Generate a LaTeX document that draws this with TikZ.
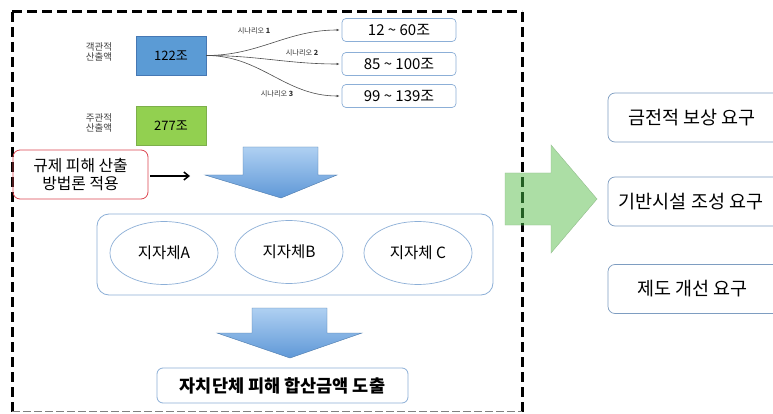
\documentclass[tikz,border=0pt]{standalone}
\usepackage{fontspec}
\setmainfont{Noto Sans CJK KR}
\usetikzlibrary{shapes.geometric,arrows.meta}
\definecolor{boxblue}{RGB}{91,155,213}
\definecolor{boxblueborder}{RGB}{70,120,180}
\definecolor{boxgreen}{RGB}{146,208,80}
\definecolor{boxgreenborder}{RGB}{125,175,75}
\definecolor{lineblue}{RGB}{140,175,215}
\definecolor{redline}{RGB}{220,70,80}
\definecolor{arrowtop}{RGB}{175,208,242}
\definecolor{arrowbot}{RGB}{95,152,215}
\definecolor{arrowgreen}{RGB}{172,222,165}
\definecolor{darkgreenline}{RGB}{35,95,35}
\tikzset{
  valbox/.style={draw=#1, line width=0.6pt, minimum width=70pt, minimum height=39pt, inner sep=0pt, font=\fontsize{13}{13}\selectfont},
  smalllab/.style={align=center, font=\fontsize{9.5}{10}\selectfont, text=black!75, inner sep=0pt},
  scenbox/.style={draw=lineblue, rounded corners=4pt, line width=0.7pt, minimum width=114pt, minimum height=23pt, inner sep=0pt, font=\fontsize{15}{15}\selectfont},
  scenlab/.style={font=\fontsize{7.2}{8}\selectfont, text=black!80, inner sep=0pt},
  curvearrow/.style={draw=black!70, line width=0.6pt, -{Latex[length=3pt,width=2.5pt]}},
  ellnode/.style={ellipse, draw=lineblue, line width=0.7pt, minimum width=108pt, minimum height=63pt, inner sep=0pt, font=\fontsize{15.5}{15.5}\selectfont},
  sidebox/.style={draw=lineblue!90!black, rounded corners=7pt, line width=0.7pt, minimum width=172pt, minimum height=49pt, inner sep=0pt},
  sidetext/.style={font=\fontsize{18.5}{18.5}\selectfont, inner sep=0pt},
  bigdash/.style={line width=3pt, dash pattern=on 10pt off 5pt},
}
\begin{document}
\begin{tikzpicture}[x=1pt,y=-1pt]
\useasboundingbox (0,0) rectangle (773,414);
\clip (0,0) rectangle (773,414);
\fill[white] (0,0) rectangle (773,414);

% dashed frame
\draw[bigdash] (12,12) -- (522,12);
\draw[bigdash] (12,12) -- (12,412);
\draw[bigdash] (522,12) -- (522,412);
\draw[black!50, line width=1.4pt, dash pattern=on 8pt off 3pt] (12,411.5) -- (522,411.5);

% value boxes
\node[valbox=boxblueborder, fill=boxblue] (b122) at (171,55.5) {122조};
\node[valbox=boxgreenborder, fill=boxgreen] (b277) at (171,125.5) {277조};
\node[smalllab] (l1) at (99,51.5) {객관적\\산출액};
\node[smalllab] (l2) at (99,122.5) {주관적\\산출액};

% scenario boxes
\node[scenbox] (s1) at (399,30) {12 \textasciitilde{} 60조};
\node[scenbox] (s2) at (399,64) {85 \textasciitilde{} 100조};
\node[scenbox] (s3) at (399,96) {99 \textasciitilde{} 139조};
\node[scenlab] (t1) at (254,31) {시나리오 \textbf{1}};
\node[scenlab] (t2) at (302,53) {시나리오 \textbf{2}};
\node[scenlab] (t3) at (277,94) {시나리오 \textbf{3}};
\draw[curvearrow] (b122.east) to[out=0,in=180] ([xshift=-2pt]s1.west);
\draw[curvearrow] (b122.east) to[out=0,in=180] ([xshift=-2pt]s2.west);
\draw[curvearrow] (b122.east) to[out=0,in=180] ([xshift=-2pt]s3.west);

% red method box
\node[draw=redline, line width=0.8pt, rounded corners=7pt, minimum width=135pt, minimum height=49pt, align=center, inner sep=0pt, font=\fontsize{15.8}{18}\selectfont] (meth) at (80.5,174.5) {규제 피해 산출\\방법론 적용};
\coordinate (mend) at (190,176);
\draw[line width=1.5pt, -{Straight Barb[length=5pt,width=8pt]}] ([xshift=2pt]meth.east |- mend) -- (mend);

% blue arrow 1
\path[top color=arrowtop, bottom color=arrowbot, draw=arrowbot!80!black, line width=0.4pt]
  (243,147) -- (318,147) -- (318,175) -- (337,175) -- (281,198) -- (205,175) -- (243,175) -- cycle;

% container with ellipses
\node[draw=lineblue, rounded corners=12pt, line width=0.8pt, minimum width=396pt, minimum height=81pt, inner sep=0pt] (cont) at (295,254.5) {};
\node[ellnode] (ea) at (164,253) {지자체A};
\node[ellnode] (eb) at (289,252) {지자체B};
\node[ellnode] (ec) at (418,253) {지자체 C};

% blue arrow 2
\path[top color=arrowtop, bottom color=arrowbot, draw=arrowbot!80!black, line width=0.4pt]
  (252,308) -- (327,308) -- (327,333) -- (362,333) -- (290,358) -- (217,333) -- (252,333) -- cycle;

% result box
\node[draw=lineblue, rounded corners=6pt, line width=0.8pt, minimum width=251pt, minimum height=35pt, inner sep=0pt, font=\fontsize{17.5}{17.5}\selectfont\bfseries] (res) at (282.5,385.5) {자치단체 피해 합산금액 도출};

% green arrow, with the frame showing through it
\path[fill=arrowgreen, draw=arrowgreen!85!black, line width=0.4pt]
  (505,173) -- (551,173) -- (551,145) -- (597,199) -- (551,253) -- (551,225) -- (505,225) -- cycle;
\draw[line width=3pt, dash pattern=on 10pt off 5pt, dash phase=11pt, draw=darkgreenline] (522,173.5) -- (522,224.5);

% right boxes
\node[sidebox] (r1) at (694,117.5) {};
\node[sidebox] (r2) at (694,201.5) {};
\node[sidebox] (r3) at (694,289) {};
\node[sidetext] (r1t) at (692,117.5) {금전적 보상 요구};
\node[sidetext] (r2t) at (691,201.5) {기반시설 조성 요구};
\node[sidetext] (r3t) at (692.5,289) {제도 개선 요구};
\end{tikzpicture}
\end{document}
